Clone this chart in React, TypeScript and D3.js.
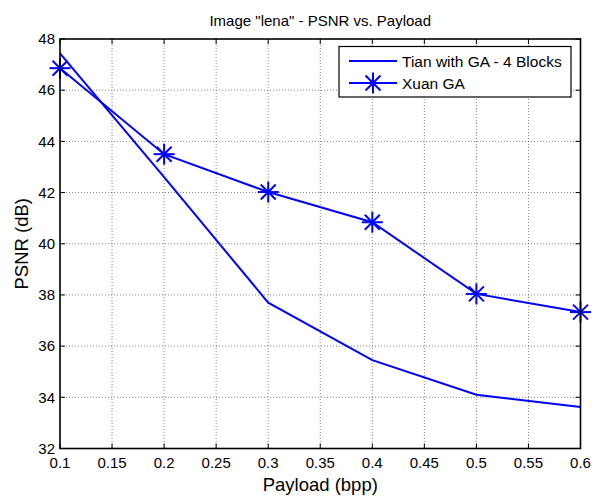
import React from "react";
import * as d3 from "d3";

const xValues = [0.1, 0.2, 0.3, 0.4, 0.5, 0.6];
const tianValues = [47.44, 42.6, 37.7, 35.45, 34.1, 33.62];
const xuanValues = [46.86, 43.5, 42.02, 40.84, 38.04, 37.33];
const xTicks = [0.1, 0.15, 0.2, 0.25, 0.3, 0.35, 0.4, 0.45, 0.5, 0.55, 0.6];
const yTicks = [32, 34, 36, 38, 40, 42, 44, 46, 48];
const seriesNames = ["Tian with GA - 4 Blocks", "Xuan GA"];
const titleText = 'Image "lena" - PSNR vs. Payload';
const xLabel = "Payload (bpp)";
const yLabel = "PSNR (dB)";

const W = 594, H = 496;
const L = 60, R = 580.5, T = 39, B = 448.5;
const FONT = "'Liberation Sans', Arial, sans-serif";
const BLUE = "#0000ff";

function Star({ x, y }: { x: number; y: number }) {
  const r = 10.5, d = 7.5;
  return (
    <g stroke={BLUE} strokeWidth={2}>
      <line x1={x - r} y1={y} x2={x + r} y2={y} />
      <line x1={x} y1={y - r} x2={x} y2={y + r} />
      <line x1={x - d} y1={y - d} x2={x + d} y2={y + d} />
      <line x1={x - d} y1={y + d} x2={x + d} y2={y - d} />
    </g>
  );
}

export default function App() {
  const x = d3.scaleLinear().domain([0.1, 0.6]).range([L, R]);
  const y = d3.scaleLinear().domain([32, 48]).range([B, T]);
  const line = d3
    .line<[number, number]>()
    .x((d) => x(d[0]))
    .y((d) => y(d[1]));
  const tian = xValues.map((v, i) => [v, tianValues[i]] as [number, number]);
  const xuan = xValues.map((v, i) => [v, xuanValues[i]] as [number, number]);
  const fmt = (v: number) => String(+v.toFixed(2));

  const lgX = 339, lgY = 46.5, lgW = 232, lgH = 50.5;

  return (
    <svg width={W} height={H} style={{ position: "absolute", left: 0, top: 0, background: "#fff" }}>
      <rect x={0} y={0} width={W} height={H} fill="#fff" />
      <rect x={L} y={T} width={R - L} height={B - T} fill="#fff" />
      {/* grid */}
      <g stroke="#666" strokeWidth={0.8} strokeDasharray="1,2">
        {xTicks.slice(1, -1).map((t) => (
          <line key={"gx" + t} x1={x(t)} x2={x(t)} y1={T} y2={B} />
        ))}
        {yTicks.slice(1, -1).map((t) => (
          <line key={"gy" + t} x1={L} x2={R} y1={y(t)} y2={y(t)} />
        ))}
      </g>
      {/* ticks */}
      <g stroke="#000" strokeWidth={1}>
        {xTicks.map((t) => (
          <g key={"tx" + t}>
            <line x1={x(t)} x2={x(t)} y1={B} y2={B - 5} />
            <line x1={x(t)} x2={x(t)} y1={T} y2={T + 5} />
          </g>
        ))}
        {yTicks.map((t) => (
          <g key={"ty" + t}>
            <line x1={L} x2={L + 5} y1={y(t)} y2={y(t)} />
            <line x1={R} x2={R - 5} y1={y(t)} y2={y(t)} />
          </g>
        ))}
      </g>
      {/* data */}
      <path d={line(tian) || ""} fill="none" stroke={BLUE} strokeWidth={2} />
      <path d={line(xuan) || ""} fill="none" stroke={BLUE} strokeWidth={2} />
      {xuan.map((d, i) => (
        <Star key={i} x={x(d[0])} y={y(d[1])} />
      ))}
      {/* box */}
      <rect x={L} y={T} width={R - L} height={B - T} fill="none" stroke="#000" strokeWidth={1.6} />
      {/* tick labels */}
      <g fontFamily={FONT} fontSize={15} fill="#000">
        {xTicks.map((t) => (
          <text key={"lx" + t} x={x(t)} y={468} textAnchor="middle">
            {fmt(t)}
          </text>
        ))}
        {yTicks.map((t) => (
          <text key={"ly" + t} x={L - 5} y={y(t) + 5.3} textAnchor="end">
            {t}
          </text>
        ))}
      </g>
      {/* labels */}
      <text x={(L + R) / 2} y={25.7} textAnchor="middle" fontFamily={FONT} fontSize={15}>
        {titleText}
      </text>
      <text x={(L + R) / 2} y={491} textAnchor="middle" fontFamily={FONT} fontSize={18.5}>
        {xLabel}
      </text>
      <text
        transform={`translate(28, ${(T + B) / 2}) rotate(-90)`}
        textAnchor="middle"
        fontFamily={FONT}
        fontSize={18.5}
      >
        {yLabel}
      </text>
      {/* legend */}
      <rect x={lgX} y={lgY} width={lgW} height={lgH} fill="#fff" stroke="#000" strokeWidth={1.2} />
      <line x1={349} x2={397} y1={61} y2={61} stroke={BLUE} strokeWidth={2} />
      <line x1={349} x2={397} y1={83} y2={83} stroke={BLUE} strokeWidth={2} />
      <Star x={373} y={83} />
      <g fontFamily={FONT} fontSize={15.5} fill="#000">
        <text x={402} y={66.7}>{seriesNames[0]}</text>
        <text x={402} y={89}>{seriesNames[1]}</text>
      </g>
    </svg>
  );
}
